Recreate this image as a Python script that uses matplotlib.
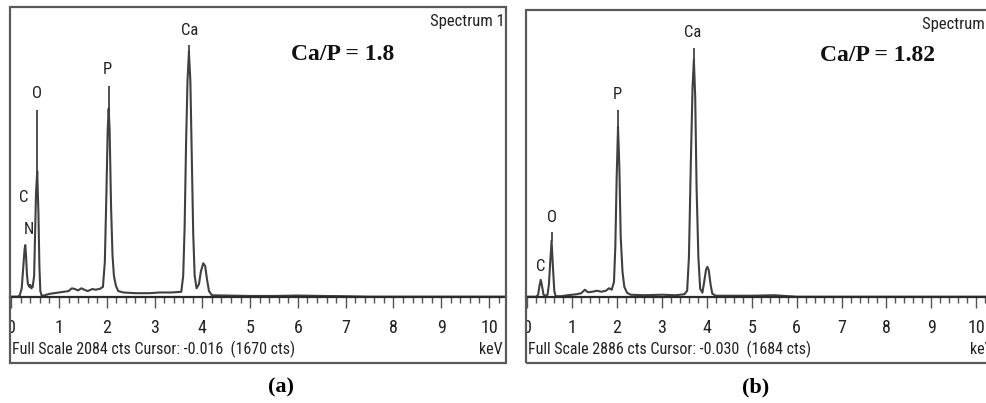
import matplotlib
matplotlib.use("Agg")
import matplotlib.pyplot as plt
from matplotlib.patches import Rectangle
from matplotlib.ticker import MultipleLocator
from matplotlib import font_manager

# ---------------- data ----------------
# Panel (a) spectrum: energy (keV) and counts
energy_a = [0.00, 0.14, 0.18, 0.22, 0.25, 0.28, 0.295, 0.31, 0.33, 0.35, 0.38, 0.40, 0.42, 0.45,
            0.48, 0.50, 0.52, 0.545, 0.57, 0.59, 0.61, 0.64, 0.70, 0.80, 0.90, 1.00, 1.10, 1.20,
            1.27, 1.33, 1.40, 1.47, 1.53, 1.60, 1.70, 1.76, 1.85, 1.92, 1.96, 1.99, 2.02, 2.04,
            2.06, 2.09, 2.12, 2.15, 2.19, 2.24, 2.35, 2.60, 2.90, 3.10, 3.35, 3.56, 3.60, 3.63,
            3.66, 3.69, 3.72, 3.75, 3.78, 3.81, 3.84, 3.88, 3.93, 3.97, 4.02, 4.06, 4.10, 4.14,
            4.20, 4.50, 5.00, 5.50, 6.00, 6.50, 7.00, 7.50, 10.5]
counts_a = [0, 0, 10, 60, 200, 340, 370, 300, 160, 90, 70, 85, 60, 70,
            150, 450, 750, 900, 600, 220, 40, 5, 10, 20, 25, 30, 35, 40,
            60, 55, 45, 60, 50, 40, 55, 50, 55, 70, 250, 700, 1200, 1350,
            1200, 650, 300, 150, 80, 40, 30, 25, 25, 30, 30, 35, 150, 500,
            1100, 1550, 1760, 1550, 1000, 450, 150, 60, 90, 180, 240, 220, 120, 40,
            10, 8, 5, 5, 8, 5, 3, 0, 0]

# Panel (b) spectrum
energy_b = [0.00, 0.20, 0.24, 0.27, 0.30, 0.33, 0.36, 0.40, 0.45, 0.48, 0.51, 0.54, 0.57, 0.60,
            0.63, 0.75, 0.90, 1.00, 1.10, 1.20, 1.28, 1.35, 1.45, 1.55, 1.65, 1.75, 1.82, 1.88,
            1.93, 1.96, 1.99, 2.02, 2.05, 2.08, 2.12, 2.16, 2.22, 2.30, 2.60, 3.00, 3.30, 3.50,
            3.56, 3.60, 3.64, 3.68, 3.71, 3.74, 3.77, 3.81, 3.85, 3.90, 3.94, 3.98, 4.01, 4.04,
            4.08, 4.12, 4.20, 5.00, 5.50, 6.00, 10.6]
counts_b = [0, 0, 20, 110, 170, 100, 20, 10, 20, 120, 350, 560, 300, 60,
            5, 5, 15, 20, 25, 35, 70, 45, 50, 60, 50, 60, 85, 70,
            150, 500, 1200, 1700, 1300, 600, 250, 100, 40, 20, 15, 20, 15, 25,
            60, 400, 1300, 2100, 2380, 2000, 1100, 400, 80, 40, 150, 270, 300, 270,
            130, 30, 10, 10, 15, 0, 0]

# Element marker lines: energy, bottom count, top count
marker_a_keV = [0.545, 2.04, 3.72]
marker_a_lo = [900, 1350, 1760]
marker_a_hi = [1345, 1517, 1810]
marker_b_keV = [0.54, 2.02, 3.71]
marker_b_lo = [560, 1700, 2380]
marker_b_hi = [650, 1880, 2500]

# Element labels: text, energy, count position
labels_a = ["C", "N", "O", "P", "Ca"]
label_a_keV = [0.27, 0.38, 0.53, 2.01, 3.73]
label_a_cts = [712, 482, 1460, 1632, 1912]
labels_b = ["C", "O", "P", "Ca"]
label_b_keV = [0.30, 0.55, 2.00, 3.69]
label_b_cts = [300, 794, 2030, 2653]

full_scale = [2084, 2886]
status_text = ["Full Scale 2084 cts Cursor: -0.016  (1670 cts)",
               "Full Scale 2886 cts Cursor: -0.030  (1684 cts)"]
ratio_text = ["Ca/P = 1.8", "Ca/P = 1.82"]
captions = ["(a)", "(b)"]
xtick_vals = [0, 1, 2, 3, 4, 5, 6, 7, 8, 9, 10]

# ---------------- drawing ----------------
W, H = 987, 403
fig = plt.figure(figsize=(W / 100, H / 100), dpi=100)

available = {f.name for f in font_manager.fontManager.ttflist}
narrow_candidates = ["Liberation Sans Narrow", "DejaVu Sans Condensed", "Roboto Condensed",
                     "Open Sans Condensed"]
NARROW = [f for f in narrow_candidates if f in available] + ["Liberation Sans", "DejaVu Sans"]
is_narrow = NARROW[0] != "Liberation Sans"
SERIF = ["Liberation Serif", "DejaVu Serif"]
frame_col = "#5a5a5a"
line_col = "#404040"

status_fs = 11.5 if is_narrow else 10.2
label_fs = 12 if is_narrow else 11
tick_fs = 13 if is_narrow else 12.5


def px_rect(l, t, r, b):
    return [l / W, 1 - b / H, (r - l) / W, (b - t) / H]


panels = [
    dict(rect=px_rect(10, 6.7, 505.7, 363.3), xlim=(-0.025, 10.35), ylim=(-479, full_scale[0]),
         e=energy_a, c=counts_a, mk=(marker_a_keV, marker_a_lo, marker_a_hi),
         lab=(labels_a, label_a_keV, label_a_cts),
         spec_xy=(8.76, 1977), ratio_xy=(6.93, 1740), status_y=-381, kev_x=9.80),
    dict(rect=px_rect(526, 9.5, 1000, 362.7), xlim=(-0.03, 10.53), ylim=(-663, full_scale[1]),
         e=energy_b, c=counts_b, mk=(marker_b_keV, marker_b_lo, marker_b_hi),
         lab=(labels_b, label_b_keV, label_b_cts),
         spec_xy=(8.79, 2734), ratio_xy=(7.80, 2422), status_y=-533, kev_x=9.86),
]

for i, p in enumerate(panels):
    ax = fig.add_axes(p["rect"])
    ax.set_xlim(*p["xlim"])
    ax.set_ylim(*p["ylim"])
    ax.plot(p["e"], p["c"], color=line_col, lw=1.5, solid_joinstyle="round", clip_on=True)
    ax.vlines(p["mk"][0], p["mk"][1], p["mk"][2], color="#222222", lw=1.1)
    for t, x, y in zip(*p["lab"]):
        ax.text(x, y, t, ha="center", va="center", fontsize=label_fs, family=NARROW,
                color="#222222")
    ax.text(*p["spec_xy"], "Spectrum 1", ha="left", va="center", fontsize=label_fs,
            family=NARROW, color="#222222", clip_on=True)
    ax.text(*p["ratio_xy"], ratio_text[i], ha="center", va="center", fontsize=17,
            family=SERIF, fontweight="bold", color="#111111")
    ax.text(0.004, p["status_y"], status_text[i], transform=ax.get_yaxis_transform(),
            ha="left", va="center", fontsize=status_fs, family=NARROW, color="#222222")
    ax.text(p["kev_x"], p["status_y"], "keV", ha="left", va="center", fontsize=status_fs,
            family=NARROW, color="#222222", clip_on=True)

    for s in ["top", "left", "right"]:
        ax.spines[s].set_visible(False)
    ax.spines["bottom"].set_position(("data", 0))
    ax.spines["bottom"].set_color("#2a2a2a")
    ax.spines["bottom"].set_linewidth(1.6)
    ax.add_patch(Rectangle((0, 0), 1, 1, transform=ax.transAxes, fill=False,
                           ec=frame_col, lw=1.6, clip_on=False, zorder=5))
    ax.set_yticks([])
    ax.set_xticks(xtick_vals)
    ax.set_xticklabels([str(v) for v in xtick_vals])
    ax.xaxis.set_minor_locator(MultipleLocator(0.2))
    ax.tick_params(axis="x", which="major", direction="out", length=8, width=1.0,
                   color="#555555", pad=8, labelsize=tick_fs, labelcolor="#222222")
    ax.tick_params(axis="x", which="minor", direction="out", length=4.5, width=1.0,
                   color="#555555")
    for lbl in ax.get_xticklabels():
        lbl.set_family(NARROW)
        lbl.set_clip_path(ax.patch)

fig.text(281 / W, 1 - 387 / H, captions[0], ha="center", va="center", fontsize=16,
         family=SERIF, fontweight="bold")
fig.text(756 / W, 1 - 387 / H, captions[1], ha="center", va="center", fontsize=16,
         family=SERIF, fontweight="bold")

fig.savefig("out.png", dpi=100, facecolor="white")
